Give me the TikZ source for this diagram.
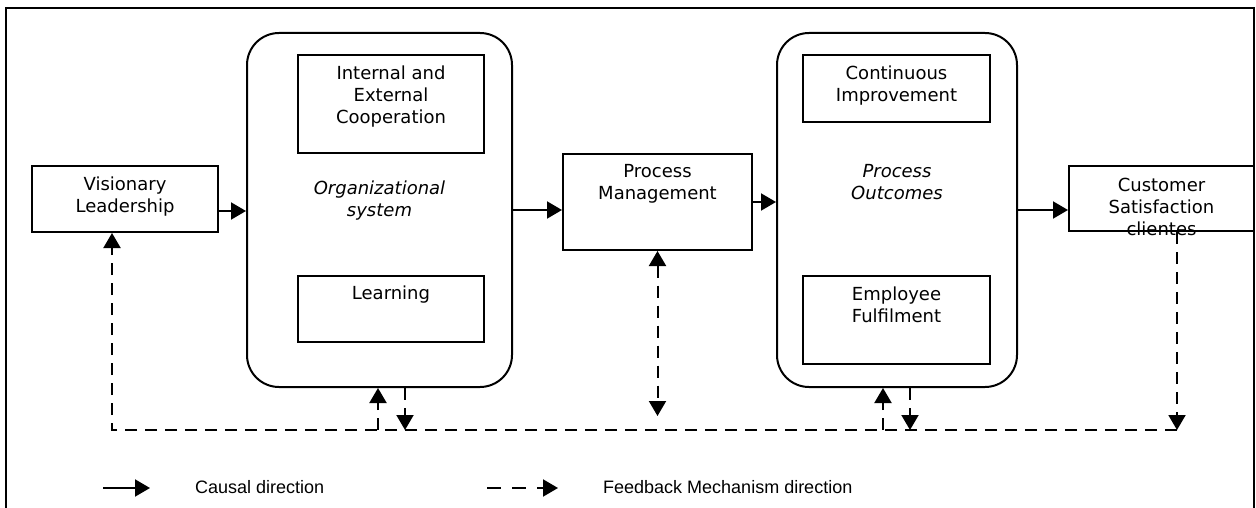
\documentclass[tikz,border=0pt]{standalone}
\usepackage{fontspec}
\setmainfont{DejaVu Sans}
\newfontfamily\legendfont{Liberation Sans}
\usetikzlibrary{arrows.meta,positioning}

\tikzset{
    box/.style={draw, line width=2pt, inner sep=0pt},
    sysbox/.style={box, rounded corners=32pt},
    boxtext/.style={align=center, inner sep=0pt, font=\fontsize{18}{22}\selectfont},
    causal/.style={line width=2pt, -{Triangle[length=15pt,width=17pt]}},
    feedback/.style={line width=2pt, dash pattern=on 12pt off 8pt},
    fbtip/.style={-{Triangle[length=15pt,width=17pt]}},
    legendtext/.style={anchor=west, inner sep=0pt, font=\legendfont\fontsize{18}{22}\selectfont}
}

\begin{document}
\begin{tikzpicture}[x=1pt, y=-1pt]
    \useasboundingbox (0,0) rectangle (1256,508);
    \draw[line width=1.8pt] (6,508) -- (6,8) -- (1254,8) -- (1254,508);

    \node[box, minimum width=186, minimum height=66] (lead) at (125,199) {};
    \node[boxtext, below=12pt of lead.north] (leadtext) {Visionary\\Leadership};

    \node[sysbox, minimum width=265, minimum height=354] (orgsys) at (379.5,210) {};
    \node[boxtext, font=\fontsize{18}{22}\selectfont\itshape, anchor=north] (orgtext) at (379.5,181) {Organizational\\system};
    \node[box, minimum width=186, minimum height=98] (coop) at (391,104) {};
    \node[boxtext, below=12pt of coop.north] (cooptext) {Internal and\\External\\Cooperation};
    \node[box, minimum width=186, minimum height=66] (learn) at (391,309) {};
    \node[boxtext, below=11pt of learn.north] (learntext) {Learning};

    \node[box, minimum width=189, minimum height=96] (pm) at (657.5,202) {};
    \node[boxtext, below=11pt of pm.north] (pmtext) {Process\\Management};

    \node[sysbox, minimum width=240, minimum height=354] (outc) at (897,210) {};
    \node[boxtext, font=\fontsize{18}{22}\selectfont\itshape, anchor=north] (outctext) at (897,164) {Process\\Outcomes};
    \node[box, minimum width=187, minimum height=67] (impr) at (896.5,88.5) {};
    \node[boxtext, below=12pt of impr.north] (imprtext) {Continuous\\Improvement};
    \node[box, minimum width=187, minimum height=88] (empl) at (896.5,320) {};
    \node[boxtext, below=12pt of empl.north] (empltext) {Employee\\Fulfilment};

    \node[box, minimum width=185, minimum height=65] (cust) at (1161.5,198.5) {};
    \node[boxtext, below=13pt of cust.north] (custtext) {Customer\\Satisfaction\\clientes};

    \draw[causal] ([yshift=-12pt]lead.east) -- ([yshift=-12pt]lead.east -| orgsys.west);
    \draw[causal] (orgsys.east) -- (orgsys.east -| pm.west);
    \draw[causal] (pm.east) -- (pm.east -| outc.west);
    \draw[causal] (outc.east) -- (outc.east -| cust.west);

    \coordinate (fbl) at (112,430);
    \coordinate (fbr) at (1177,430);
    \coordinate (orgup) at (378,430);
    \coordinate (orgdn) at (405,430);
    \coordinate (outcup) at (883,430);
    \coordinate (outcdn) at (910,430);
    \coordinate (pmdn) at (657.5,416);

    \draw[feedback, fbtip] (fbr) -- (fbl) -- (fbl |- lead.south);
    \draw[feedback, fbtip] (fbr |- cust.south) -- (fbr);
    \draw[feedback, fbtip] (orgup) -- (orgup |- orgsys.south);
    \draw[feedback, fbtip] (orgdn |- orgsys.south) -- (orgdn);
    \draw[feedback, fbtip] (outcup) -- (outcup |- outc.south);
    \draw[feedback, fbtip] (outcdn |- outc.south) -- (outcdn);
    \draw[feedback, {Triangle[length=15pt,width=17pt]}-{Triangle[length=15pt,width=17pt]}] (pm.south) -- (pmdn);

    \coordinate (lgcausal) at (103,488);
    \coordinate (lgfeed) at (487,488);
    \draw[causal] (lgcausal) -- ++(47,0);
    \node[legendtext] (causaltext) at (195,487) {Causal direction};
    \draw[feedback, fbtip, dash pattern=on 14pt off 11pt] (lgfeed) -- ++(71,0);
    \node[legendtext] (feedtext) at (603,487) {Feedback Mechanism direction};
\end{tikzpicture}
\end{document}
